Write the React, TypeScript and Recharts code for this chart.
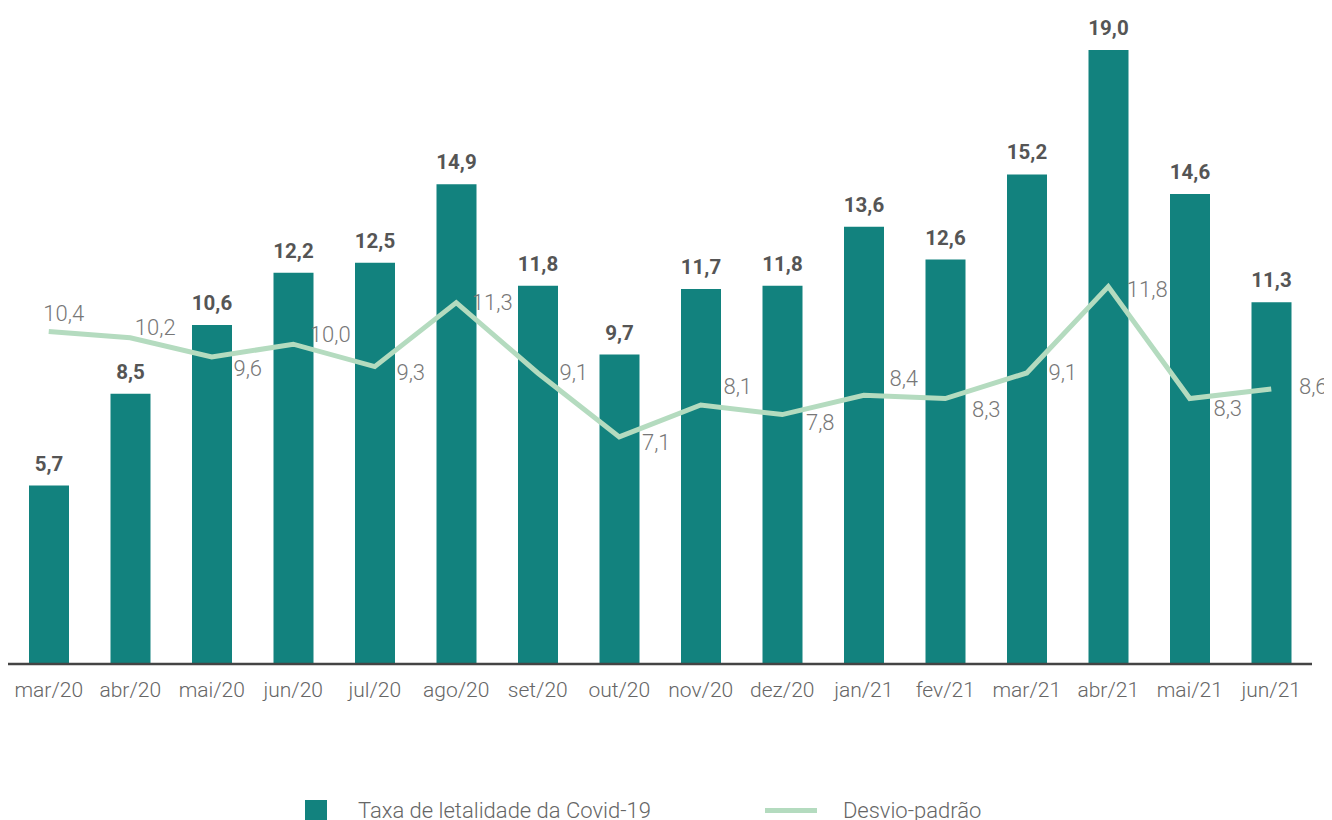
import { ComposedChart, Bar, Line, XAxis, YAxis, LabelList, Legend } from 'recharts'

const months = ['mar/20', 'abr/20', 'mai/20', 'jun/20', 'jul/20', 'ago/20', 'set/20', 'out/20', 'nov/20', 'dez/20', 'jan/21', 'fev/21', 'mar/21', 'abr/21', 'mai/21', 'jun/21']
const letalidade = [5.7, 8.5, 10.6, 12.2, 12.5, 14.9, 11.8, 9.7, 11.7, 11.8, 13.6, 12.6, 15.2, 19.0, 14.6, 11.3]
const desvio = [10.4, 10.2, 9.6, 10.0, 9.3, 11.3, 9.1, 7.1, 8.1, 7.8, 8.4, 8.3, 9.1, 11.8, 8.3, 8.6]

// where each line label sits relative to its point
const lineLabelDx = [15, 25, 36, 37, 36, 36, 36, 37, 37, 38, 40, 41, 36, 39, 38, 42]
const lineLabelDy = [-18, -10, 11, -10, 6, 0, 0, 6, -18, 8, -17, 11, 0, 3, 10, -2]

const data = months.map((m, i) => ({ month: m, taxa: letalidade[i], desvio: desvio[i] }))

const fmt = (v: number) => v.toFixed(1).replace('.', ',')

const FONT = 'Roboto, "Noto Sans", sans-serif'
const BAR = '#12827e'
const LINE = '#b4dbbf'

const renderLineLabel = (props: any) => {
  const { x, y, index, value } = props
  return (
    <text
      x={x + lineLabelDx[index]}
      y={y + lineLabelDy[index]}
      textAnchor="middle"
      dominantBaseline="central"
      fontSize={22}
      fontWeight={300}
      fill="#777"
      fontFamily={FONT}
    >
      {fmt(value)}
    </text>
  )
}

const renderLegend = () => (
  <div style={{ display: 'flex', fontFamily: FONT, fontWeight: 300, fontSize: 22, color: '#666', alignItems: 'center' }}>
    <div style={{ width: 22, height: 22, background: BAR, marginLeft: 297, marginRight: 31 }} />
    <span>Taxa de letalidade da Covid-19</span>
    <div style={{ width: 52, height: 5, background: LINE, marginLeft: 114, marginRight: 26 }} />
    <span>Desvio-padrão</span>
  </div>
)

export default function App() {
  return (
    <ComposedChart
      width={1324}
      height={812}
      data={data}
      margin={{ top: 42, right: 20, bottom: 0, left: 0 }}
      barSize={40}
      style={{ fontFamily: FONT }}
    >
      <XAxis
        dataKey="month"
        tickLine={false}
        axisLine={{ stroke: '#444', strokeWidth: 2.5 }}
        tick={{ fill: '#666', fontSize: 21, fontWeight: 300, fontFamily: FONT }}
        tickMargin={12}
        interval={0}
        height={40}
      />
      <YAxis yAxisId="bar" hide domain={[0.25, 19]} />
      <YAxis yAxisId="line" hide domain={[0, 19.2]} />
      <Bar yAxisId="bar" dataKey="taxa" fill={BAR} isAnimationActive={false}>
        <LabelList
          dataKey="taxa"
          position="top"
          offset={15}
          formatter={(v: any) => fmt(Number(v))}
          fill="#555"
          fontSize={20.5}
          fontWeight={700}
          fontFamily={FONT}
        />
      </Bar>
      <Line
        yAxisId="line"
        dataKey="desvio"
        stroke={LINE}
        strokeWidth={5}
        dot={false}
        activeDot={false}
        isAnimationActive={false}
        label={renderLineLabel}
      />
      <Legend verticalAlign="bottom" content={renderLegend} height={116} wrapperStyle={{ top: 790, left: 0 }} />
    </ComposedChart>
  )
}
